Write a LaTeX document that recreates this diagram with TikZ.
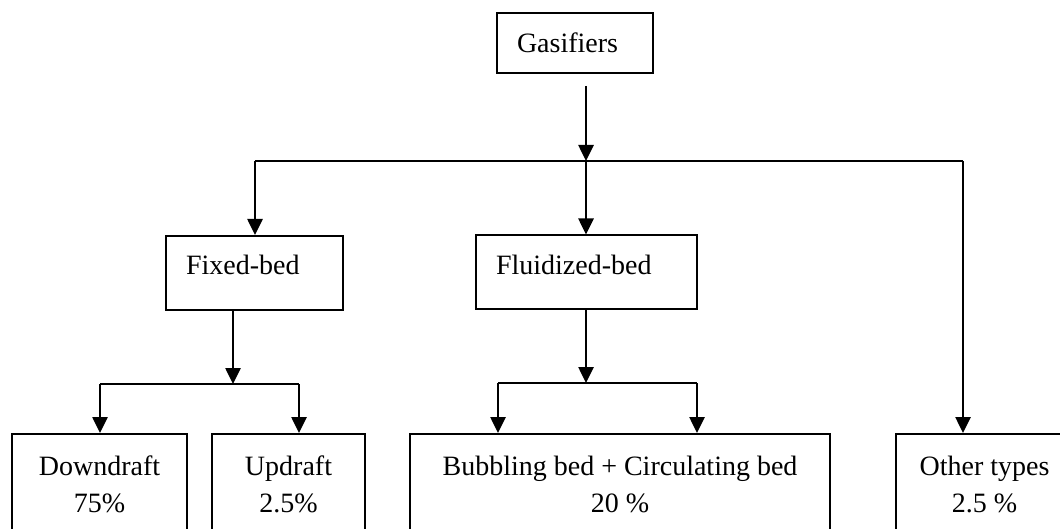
\documentclass[tikz,border=0pt]{standalone}
\usepackage{fontspec}
\setmainfont{Liberation Serif}
\usepackage{tikz}
\usetikzlibrary{arrows.meta}

\begin{document}
\begin{tikzpicture}[x=0.5pt, y=-0.5pt,
  every node/.style={font=\fontsize{14}{18.5}\selectfont},
  topbox/.style={draw=black, line width=1pt, inner xsep=10pt, inner ysep=0pt, align=left, text height=19.5pt, text depth=17.5pt},
  leafbox/.style={draw=black, line width=1pt, anchor=north, align=center, minimum height=50pt, inner xsep=0pt},
  arr/.style={line width=1.3pt, -{Triangle[length=8pt, width=7.5pt]}},
  link/.style={line width=1.3pt}]
\useasboundingbox (0,0) rectangle (1060,529);
% Top level
\node[topbox, text width=58pt, text height=20pt, text depth=10pt] (gas) at (575,43) {Gasifiers};
\coordinate (gasout) at (586,86);
\coordinate (split) at (586,161);
\coordinate (hl) at (255,161);
\coordinate (hr) at (963,161);
% Second level
\node[topbox, text width=68.5pt] (fixed) at (254.5,273) {Fixed-bed};
\node[topbox, text width=90.5pt] (fluid) at (586.5,272.5) {Fluidized-bed};
% Leaves
\node[leafbox, minimum width=87.5pt] (down) at (99.5,433) {Downdraft\\75\%};
\node[leafbox, minimum width=76.5pt] (up) at (288.5,433) {Updraft\\2.5\%};
\node[leafbox, minimum width=210pt] (bub) at (620,433) {Bubbling bed + Circulating bed\\20 \%};
\node[leafbox, minimum width=88.5pt] (other) at (984.5,433) {Other types\\2.5 \%};
\coordinate (fm) at (233,384);
\coordinate (fl) at (100,384);
\coordinate (fr) at (299,384);
\coordinate (bm) at (586,383);
\coordinate (bl) at (498,383);
\coordinate (br) at (697,383);
% Connectors
\draw[arr] (gasout) -- (split);
\draw[link] (hl) -- (hr);
\draw[arr] (hl) -- (hl |- fixed.north);
\draw[arr] (split) -- (split |- fluid.north);
\draw[arr] (hr) -- (hr |- other.north);
\draw[arr] (fm |- fixed.south) -- (fm);
\draw[link] (fl) -- (fr);
\draw[arr] (fl) -- (fl |- down.north);
\draw[arr] (fr) -- (fr |- up.north);
\draw[arr] (bm |- fluid.south) -- (bm);
\draw[link] (bl) -- (br);
\draw[arr] (bl) -- (bl |- bub.north);
\draw[arr] (br) -- (br |- bub.north);
\end{tikzpicture}
\end{document}
